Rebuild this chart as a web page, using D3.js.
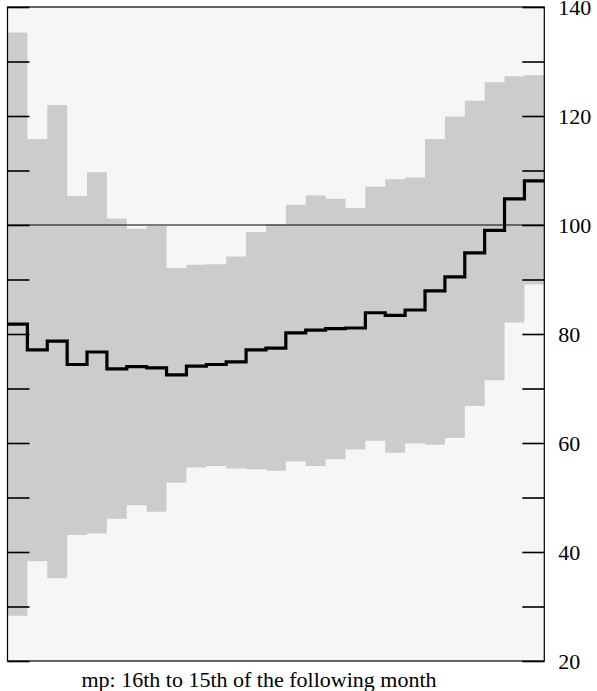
<!DOCTYPE html>
<html>
<head>
<meta charset="utf-8">
<script src="https://cdn.jsdelivr.net/npm/d3@7"></script>
<style>
  body { margin: 0; background: #fff; }
  svg { display: block; }
  .tick text { font-family: 'Liberation Serif', 'Times New Roman', serif; font-size: 22px; fill: #000; }
</style>
</head>
<body>
<div id="chart"></div>
<script>
// Data: one value per period (27 periods)
const periods = d3.range(27)
const upper = [135.3, 115.8, 122.0, 105.3, 109.7, 101.2, 99.3, 99.8, 92.1, 92.7, 92.8, 94.2, 98.7,
  100.1, 103.7, 105.4, 104.8, 103.1, 107.0, 108.4, 108.7, 115.8, 119.9, 122.8, 126.2, 127.3, 127.5]
const lower = [28.3, 38.3, 35.2, 43.1, 43.4, 46.1, 48.6, 47.4, 52.7, 55.5, 55.8, 55.3, 55.2,
  54.9, 56.6, 55.8, 57.0, 58.8, 60.4, 58.2, 59.9, 59.7, 60.9, 66.8, 71.5, 82.1, 89.1]
const middle = [81.8, 77.1, 78.7, 74.4, 76.7, 73.6, 74.0, 73.8, 72.5, 74.1, 74.4, 74.9, 77.1,
  77.4, 80.2, 80.7, 81.0, 81.1, 83.9, 83.4, 84.4, 87.9, 90.5, 94.9, 99.0, 104.8, 108.1]
const yTicks = d3.range(20, 141, 10)
const refValue = 100
const xLabel = 'mp: 16th to 15th of the following month'

// Size
const w = 597
const h = 691
const plotLeft = 7.5
const plotRight = 544.3
const plotTop = 7
const plotBottom = 661

const svg = d3.select('#chart').append('svg')
  .attr('width', w)
  .attr('height', h)

// Scales
const xScale = d3.scaleLinear()
  .domain([0, periods.length])
  .range([plotLeft, plotRight])
const yScale = d3.scaleLinear()
  .domain([20, 140])
  .range([plotBottom, plotTop])

// Plot background
svg.append('rect')
  .attr('x', plotLeft)
  .attr('y', plotTop)
  .attr('width', plotRight - plotLeft)
  .attr('height', plotBottom - plotTop)
  .attr('fill', '#f6f6f6')

// Range band as one stepped area (no seams between periods)
const bandData = periods.map(i => [i, lower[i], upper[i]])
bandData.push([periods.length, lower[lower.length - 1], upper[upper.length - 1]])

const band = d3.area()
  .x(d => xScale(d[0]))
  .y0(d => yScale(d[1]))
  .y1(d => yScale(d[2]))
  .curve(d3.curveStepAfter)

svg.append('path')
  .datum(bandData)
  .attr('d', band)
  .attr('fill', '#cccccc')

// Reference line
svg.append('line')
  .attr('x1', plotLeft)
  .attr('x2', plotRight)
  .attr('y1', yScale(refValue))
  .attr('y2', yScale(refValue))
  .attr('stroke', '#000')
  .attr('stroke-width', 1.2)

// Step line
const stepData = periods.map(i => [i, middle[i]])
stepData.push([periods.length, middle[middle.length - 1]])

const line = d3.line()
  .x(d => xScale(d[0]))
  .y(d => yScale(d[1]))
  .curve(d3.curveStepAfter)

svg.append('path')
  .datum(stepData)
  .attr('d', line)
  .attr('fill', 'none')
  .attr('stroke', '#000')
  .attr('stroke-width', 3.2)
  .attr('stroke-linejoin', 'miter')

// Axes (ticks pointing inward)
const yAxisRight = d3.axisRight(yScale)
  .tickValues(yTicks)
  .tickSizeInner(-22)
  .tickSizeOuter(0)
  .tickPadding(14)
  .tickFormat(d => d % 20 === 0 ? d : '')

const yAxisLeft = d3.axisLeft(yScale)
  .tickValues(yTicks)
  .tickSizeInner(-22)
  .tickSizeOuter(0)
  .tickFormat('')

svg.append('g')
  .attr('transform', `translate(${plotRight}, 0)`)
  .call(yAxisRight)
  .call(g => g.select('.domain').remove())
  .call(g => g.selectAll('.tick line').attr('stroke-width', 1.6))

svg.append('g')
  .attr('transform', `translate(${plotLeft}, 0)`)
  .call(yAxisLeft)
  .call(g => g.select('.domain').remove())
  .call(g => g.selectAll('.tick line').attr('stroke-width', 1.6))

// Frame
svg.append('rect')
  .attr('x', plotLeft)
  .attr('y', plotTop)
  .attr('width', plotRight - plotLeft)
  .attr('height', plotBottom - plotTop)
  .attr('fill', 'none')
  .attr('stroke', '#000')
  .attr('stroke-width', 1.2)

// X label
svg.append('text')
  .attr('x', 259)
  .attr('y', 687)
  .attr('text-anchor', 'middle')
  .style('font-family', "'Liberation Serif', 'Times New Roman', serif")
  .style('font-size', '22px')
  .text(xLabel)
</script>
</body>
</html>
